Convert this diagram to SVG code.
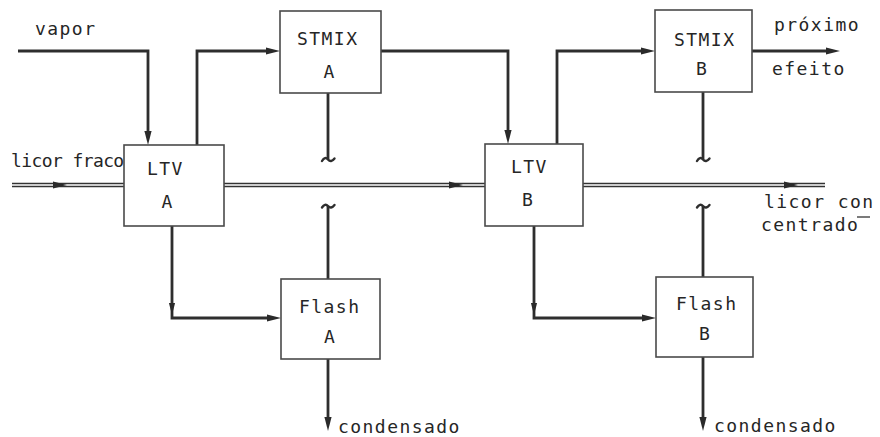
<svg xmlns="http://www.w3.org/2000/svg" xmlns:xlink="http://www.w3.org/1999/xlink" width="880" height="437" viewBox="0 0 880 437">
  <style>
    .box { fill: #ffffff; stroke: #4a4a4a; stroke-width: 1.6; }
    .txt { font-family: "DejaVu Sans Mono", "Liberation Mono", monospace; font-size: 18px; fill: #262626; letter-spacing: 1.45px; }
    .pipe { fill: none; stroke: #2e2e2e; stroke-width: 2.8; stroke-linejoin: miter; }
    .thin { fill: none; stroke: #333333; stroke-width: 1.3; }
    .hook { fill: none; stroke: #2e2e2e; stroke-width: 2.4; stroke-linecap: round; }
    .head { fill: #2a2a2a; }
  </style>
  <defs>
    <path id="ah" d="M0,0 L-14,-3.6 L-14,3.6 Z"/>
  </defs>
  <rect width="880" height="437" fill="#ffffff"/>

  <g id="connectors">
    <!-- vapor to LTV A -->
    <path class="pipe" d="M18,51 H148 V132"/>
    <use xlink:href="#ah" class="head" transform="translate(148,145) rotate(90)"/>
    <!-- LTV A to STMIX A -->
    <path class="pipe" d="M197,145 V51 H267"/>
    <use xlink:href="#ah" class="head" transform="translate(280,51)"/>
    <!-- STMIX A to LTV B -->
    <path class="pipe" d="M381,51 H508 V131"/>
    <use xlink:href="#ah" class="head" transform="translate(508,144) rotate(90)"/>
    <!-- LTV B to STMIX B -->
    <path class="pipe" d="M557,144 V51 H642"/>
    <use xlink:href="#ah" class="head" transform="translate(655,51)"/>
    <!-- STMIX B to next effect -->
    <path class="pipe" d="M752,51 H827"/>
    <use xlink:href="#ah" class="head" transform="translate(840,51)"/>

    <!-- STMIX A down / Flash A up (broken line) -->
    <path class="pipe" d="M328,93 V159"/>
    <path class="hook" d="M322,161 Q325,156 328,159.5 Q331,163 334.5,158.5"/>
    <path class="hook" d="M322,207.5 Q325,203 328,206 Q331,209.5 334.5,205"/>
    <path class="pipe" d="M328,206 V279"/>
    <!-- STMIX B down / Flash B up (broken line) -->
    <path class="pipe" d="M703,92 V159"/>
    <path class="hook" d="M697,161 Q700,156 703,159.5 Q706,163 709.5,158.5"/>
    <path class="hook" d="M697,207.5 Q700,203 703,206 Q706,209.5 709.5,205"/>
    <path class="pipe" d="M703,206 V277"/>

    <!-- LTV A to Flash A -->
    <path class="pipe" d="M172,226 V318 H268"/>
    <use xlink:href="#ah" class="head" transform="translate(172,315) rotate(90) scale(0.85)"/>
    <use xlink:href="#ah" class="head" transform="translate(281,318)"/>
    <!-- LTV B to Flash B -->
    <path class="pipe" d="M534,226 V318 H643"/>
    <use xlink:href="#ah" class="head" transform="translate(534,315) rotate(90) scale(0.85)"/>
    <use xlink:href="#ah" class="head" transform="translate(656,318)"/>

    <!-- Flash A condensate -->
    <path class="pipe" d="M328,359 V418"/>
    <use xlink:href="#ah" class="head" transform="translate(328,431) rotate(90)"/>
    <!-- Flash B condensate -->
    <path class="pipe" d="M703,357 V418"/>
    <use xlink:href="#ah" class="head" transform="translate(703,431) rotate(90)"/>

    <!-- liquor double lines -->
    <path class="thin" d="M12,183.5 H124 M12,186.5 H124"/>
    <use xlink:href="#ah" class="head" transform="translate(67,185)"/>
    <path class="thin" d="M224,183.5 H485 M224,186.5 H485"/>
    <use xlink:href="#ah" class="head" transform="translate(463,185)"/>
    <path class="thin" d="M583,183.5 H825 M583,186.5 H825"/>
    <use xlink:href="#ah" class="head" transform="translate(798,185)"/>
  </g>

  <g id="ltv-a">
    <rect class="box" x="124" y="145" width="100" height="81"/>
    <text class="txt" x="147" y="175">LTV</text>
    <text class="txt" x="161.5" y="208">A</text>
  </g>
  <g id="stmix-a">
    <rect class="box" x="280" y="11" width="101" height="82"/>
    <text class="txt" x="297" y="45">STMIX</text>
    <text class="txt" x="323.5" y="78">A</text>
  </g>
  <g id="ltv-b">
    <rect class="box" x="485" y="144" width="98" height="82"/>
    <text class="txt" x="511" y="173">LTV</text>
    <text class="txt" x="522" y="206">B</text>
  </g>
  <g id="stmix-b">
    <rect class="box" x="655" y="10" width="97" height="82"/>
    <text class="txt" x="674" y="46">STMIX</text>
    <text class="txt" x="696" y="75">B</text>
  </g>
  <g id="flash-a">
    <rect class="box" x="281" y="279" width="99" height="80"/>
    <text class="txt" x="299" y="313">Flash</text>
    <text class="txt" x="324" y="343">A</text>
  </g>
  <g id="flash-b">
    <rect class="box" x="656" y="277" width="97" height="80"/>
    <text class="txt" x="676" y="310">Flash</text>
    <text class="txt" x="699" y="340">B</text>
  </g>

  <g id="labels">
    <text class="txt" x="35" y="35">vapor</text>
    <text class="txt" x="11" y="167" style="letter-spacing:-0.6px">licor fraco</text>
    <text class="txt" x="774" y="31">próximo</text>
    <text class="txt" x="772" y="75">efeito</text>
    <text class="txt" x="764" y="208">licor con</text>
    <text class="txt" x="761" y="231">centrado</text>
    <path class="thin" d="M857,217 H870"/>
    <text class="txt" x="338" y="433">condensado</text>
    <text class="txt" x="714" y="432">condensado</text>
  </g>
</svg>
